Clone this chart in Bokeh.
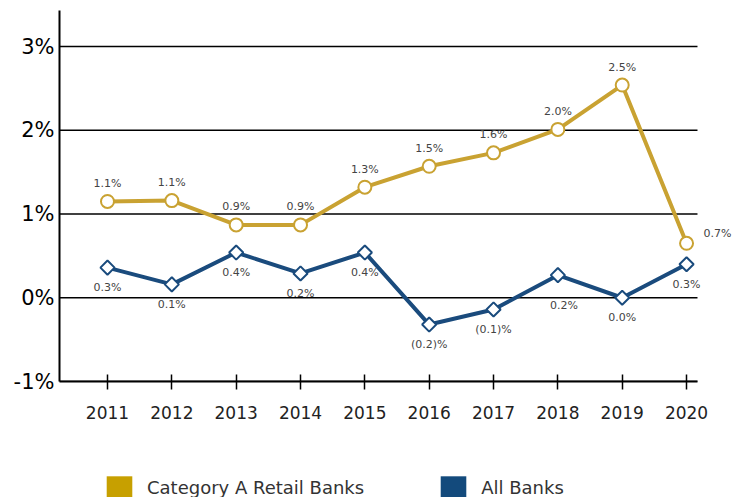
from bokeh.plotting import figure
from bokeh.layouts import column
from bokeh.models import (Range1d, FixedTicker, ColumnDataSource, Legend, LegendItem,
                          LabelSet)
from bokeh.core.properties import value
from bokeh.embed import file_html
from bokeh.resources import INLINE

# ---- data ----
years = [2011, 2012, 2013, 2014, 2015, 2016, 2017, 2018, 2019, 2020]
retail = [1.15, 1.16, 0.87, 0.87, 1.32, 1.57, 1.73, 2.01, 2.54, 0.65]
retail_labels = ["1.1%", "1.1%", "0.9%", "0.9%", "1.3%", "1.5%", "1.6%", "2.0%", "2.5%", "0.7%"]
all_banks = [0.36, 0.16, 0.54, 0.29, 0.54, -0.32, -0.14, 0.27, 0.0, 0.40]
all_labels = ["0.3%", "0.1%", "0.4%", "0.2%", "0.4%", "(0.2)%", "(0.1)%", "0.2%", "0.0%", "0.3%"]
y_ticks = [-1, 0, 1, 2, 3]
y_tick_labels = ["-1%", "0%", "1%", "2%", "3%"]
series_names = ["Category A Retail Banks", "All Banks"]

# ---- styles / layout ----
GOLD = "#C9A232"
GOLD_LEG = "#C7A000"
BLUE = "#1A4B7D"
BLUE_LEG = "#134A7C"
FONT = "DejaVu Sans"
X_START, X_GRID_END, X_END = 2010.254, 2020.17, 2020.854
Y_START, Y_END = -1, 3.43

p = figure(width=741, height=440, output_backend="svg", toolbar_location=None,
           x_range=Range1d(X_START, X_END), y_range=Range1d(Y_START, Y_END),
           min_border_left=59, min_border_right=0, min_border_top=10, min_border_bottom=59)
p.outline_line_color = None
p.background_fill_color = "white"
p.xgrid.grid_line_color = None
p.ygrid.grid_line_color = None

# horizontal grid lines ending at the last category edge
p.segment(x0=[X_START] * len(y_ticks), x1=[X_GRID_END] * len(y_ticks),
          y0=y_ticks, y1=y_ticks, line_color="black", line_width=1.5)

p.yaxis.ticker = FixedTicker(ticks=y_ticks)
p.yaxis.major_label_overrides = {t: l for t, l in zip(y_ticks, y_tick_labels)}
p.yaxis.major_tick_in = 0
p.yaxis.major_tick_out = 0
p.yaxis.minor_tick_line_color = None
p.yaxis.major_label_standoff = 5
p.yaxis.major_label_text_font = FONT
p.yaxis.major_label_text_font_size = "21px"
p.yaxis.major_label_text_color = "black"
p.yaxis.axis_line_width = 2
p.yaxis.axis_line_color = "black"

p.xaxis.ticker = FixedTicker(ticks=years)
p.xaxis.bounds = (X_START, X_GRID_END)
p.xaxis.major_label_overrides = {y: str(y) for y in years}
p.xaxis.major_tick_in = 7
p.xaxis.major_tick_out = 8
p.xaxis.major_tick_line_width = 1.5
p.xaxis.major_tick_line_color = "black"
p.xaxis.minor_tick_line_color = None
p.xaxis.major_label_standoff = 16
p.xaxis.major_label_text_font = FONT
p.xaxis.major_label_text_font_size = "17px"
p.xaxis.major_label_text_color = "#222222"
p.xaxis.axis_line_width = 2
p.xaxis.axis_line_color = "black"

# lines and markers
p.line(years, retail, line_color=GOLD, line_width=4)
p.line(years, all_banks, line_color=BLUE, line_width=4)
p.scatter(years, retail, marker="circle", size=13, fill_color="white",
          line_color=GOLD, line_width=2)
p.scatter(years, all_banks, marker="square", angle=0.785398, size=10,
          fill_color="white", line_color=BLUE, line_width=2)

# data labels (LabelSet: positive y_offset = up)
n = len(years)
gold_xo = [0] * (n - 1) + [31]
gold_yo = [18] * (n - 1) + [10]
blue_xo = [0] * 7 + [6, 0, 0]
blue_yo = [-20] * 7 + [-30, -20, -20]
gold_src = ColumnDataSource(dict(x=years, y=retail, t=retail_labels, xo=gold_xo, yo=gold_yo))
blue_src = ColumnDataSource(dict(x=years, y=all_banks, t=all_labels, xo=blue_xo, yo=blue_yo))
for src in (gold_src, blue_src):
    p.add_layout(LabelSet(x="x", y="y", text="t", source=src, x_offset="xo", y_offset="yo",
                          text_font=value(FONT), text_font_size=value("11px"),
                          text_color=value("#444444"),
                          text_align=value("center"), text_baseline=value("middle")))

# ---- legend strip ----
lg = figure(width=741, height=57, output_backend="svg", toolbar_location=None,
            x_axis_location=None, y_axis_location=None,
            min_border_left=0, min_border_right=0, min_border_top=0, min_border_bottom=0)
lg.outline_line_color = None
lg.xgrid.grid_line_color = None
lg.ygrid.grid_line_color = None
r_gold = lg.quad(left=[years[0]], right=[years[0]], top=[retail[0]], bottom=[retail[0]],
                 fill_color=GOLD_LEG, line_color=None)
r_blue = lg.quad(left=[years[0]], right=[years[0]], top=[all_banks[0]], bottom=[all_banks[0]],
                 fill_color=BLUE_LEG, line_color=None)
legend = Legend(items=[LegendItem(label=series_names[0], renderers=[r_gold]),
                       LegendItem(label=series_names[1], renderers=[r_blue])],
                location=(44, -4), orientation="horizontal",
                glyph_width=32, glyph_height=28, label_standoff=12, spacing=73,
                padding=0, margin=0, border_line_color=None, background_fill_alpha=0,
                label_text_font=FONT, label_text_font_size="18px",
                label_text_baseline="alphabetic",
                label_text_color="#333333")
lg.add_layout(legend, "center")

layout = column(p, lg, spacing=0)
open("out.html", "w").write(file_html(layout, INLINE))
